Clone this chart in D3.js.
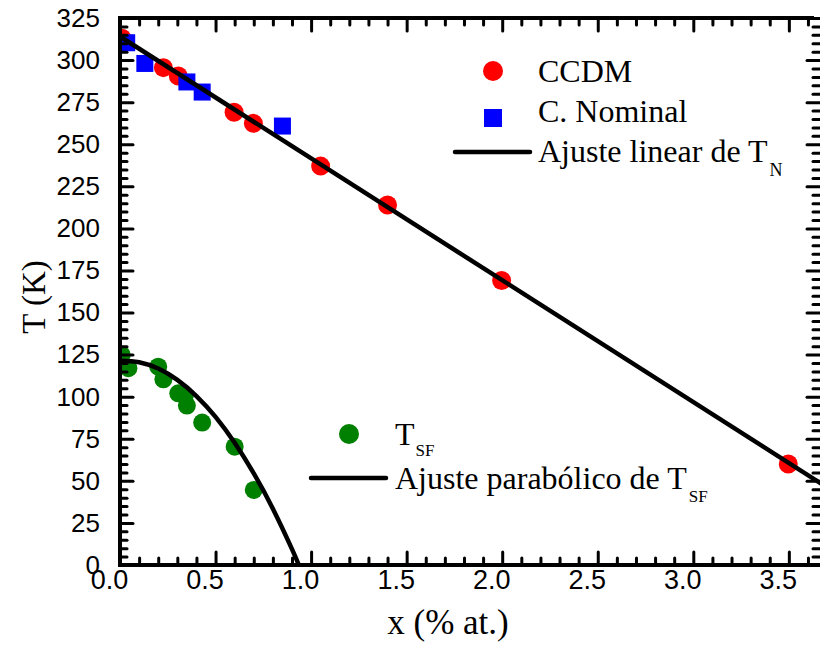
<!DOCTYPE html>
<html>
<head>
<meta charset="utf-8">
<script src="https://cdn.jsdelivr.net/npm/d3@7"></script>
<style>
  html, body { margin: 0; padding: 0; background: #fff; }
  svg { display: block; }
</style>
</head>
<body>
<svg id="chart" width="820" height="648"></svg>
<script>
// ---- data ----
const ccdmX = [0.01, 0.227, 0.305, 0.597, 0.698, 1.05, 1.40, 1.997, 3.497];
const ccdmT = [313, 295.5, 290.5, 269, 262.4, 237, 213.9, 169, 60];

const nominalX = [0.035, 0.13, 0.35, 0.43, 0.85];
const nominalT = [310.3, 298, 287, 281, 260.8];

const tsfX = [0.009, 0.044, 0.20, 0.227, 0.305, 0.34, 0.35, 0.43, 0.60, 0.70];
const tsfT = [124.8, 116.9, 117.8, 110.3, 102, 101, 94.7, 84.6, 70.3, 44.6];

const linFitX = [0, 3.67];
const linFitT = [314, 48.3];

const parFitX = [0, 0.1, 0.2, 0.3, 0.4, 0.5, 0.6, 0.7, 0.8, 0.9, 0.94];
const parFitT = [121.4, 120.5, 116.7, 110.0, 100.4, 88.0, 72.6, 54.4, 33.4, 9.4, -1.2];

const xMajor = [0, 0.5, 1.0, 1.5, 2.0, 2.5, 3.0, 3.5];
const xMinor = [0.1,0.2,0.3,0.4,0.6,0.7,0.8,0.9,1.1,1.2,1.3,1.4,1.6,1.7,1.8,1.9,2.1,2.2,2.3,2.4,2.6,2.7,2.8,2.9,3.1,3.2,3.3,3.4,3.6];
const yMajor = [0, 25, 50, 75, 100, 125, 150, 175, 200, 225, 250, 275, 300, 325];
const yMinor = d3.range(0, 326, 5).filter(v => v % 25 !== 0);

// ---- layout ----
const L = 120, R = 820, T = 18, B = 565;
const svg = d3.select("#chart");
const x = d3.scaleLinear().domain([0, 3.663]).range([L, R]);
const y = d3.scaleLinear().domain([0, 325]).range([B, T]);

svg.append("defs").append("clipPath").attr("id", "clip")
  .append("rect").attr("x", L).attr("y", T).attr("width", R - L).attr("height", B - T);

const plot = svg.append("g").attr("clip-path", "url(#clip)");

// points
plot.selectAll("circle.ccdm").data(ccdmX).join("circle")
  .attr("class", "ccdm")
  .attr("cx", (d, i) => x(d)).attr("cy", (d, i) => y(ccdmT[i]))
  .attr("r", 9.5).attr("fill", "#ff0000");

const sq = 17;
plot.selectAll("rect.nom").data(nominalX).join("rect")
  .attr("class", "nom")
  .attr("x", (d, i) => x(d) - sq / 2).attr("y", (d, i) => y(nominalT[i]) - sq / 2)
  .attr("width", sq).attr("height", sq).attr("fill", "#0000ff");

plot.selectAll("circle.tsf").data(tsfX).join("circle")
  .attr("class", "tsf")
  .attr("cx", (d, i) => x(d)).attr("cy", (d, i) => y(tsfT[i]))
  .attr("r", 9).attr("fill", "#008000");

// fit lines
const line = d3.line().x(d => x(d[0])).y(d => y(d[1]));
plot.append("path")
  .datum(linFitX.map((v, i) => [v, linFitT[i]]))
  .attr("d", line).attr("fill", "none").attr("stroke", "#000").attr("stroke-width", 4.5);
plot.append("path")
  .datum(parFitX.map((v, i) => [v, parFitT[i]]))
  .attr("d", line.curve(d3.curveNatural)).attr("fill", "none").attr("stroke", "#000").attr("stroke-width", 4.5);

// ---- axes ----
function styleAxis(g) {
  g.select(".domain").remove();
  g.selectAll(".tick line").attr("stroke", "#000").attr("stroke-width", 3).attr("stroke-linecap", "round");
}
const majLen = 13, minLen = 7;

// bottom
svg.append("g").attr("transform", `translate(0,${B})`)
  .call(d3.axisBottom(x).tickValues(xMajor).tickSize(-majLen).tickPadding(5).tickFormat(d3.format(".1f")))
  .call(styleAxis)
  .call(g => g.selectAll("text").attr("font-family", "'Liberation Sans', Arial, sans-serif")
    .attr("font-size", 27).attr("fill", "#000").attr("dx", -11));
svg.append("g").attr("transform", `translate(0,${B})`)
  .call(d3.axisBottom(x).tickValues(xMinor).tickSize(-minLen).tickFormat(""))
  .call(styleAxis);
// top
svg.append("g").attr("transform", `translate(0,${T})`)
  .call(d3.axisTop(x).tickValues(xMajor).tickSize(-majLen).tickFormat(""))
  .call(styleAxis);
svg.append("g").attr("transform", `translate(0,${T})`)
  .call(d3.axisTop(x).tickValues(xMinor).tickSize(-minLen).tickFormat(""))
  .call(styleAxis);
// left
svg.append("g").attr("transform", `translate(${L},0)`)
  .call(d3.axisLeft(y).tickValues(yMajor).tickSize(-majLen).tickPadding(20))
  .call(styleAxis)
  .call(g => g.selectAll("text").attr("font-family", "'Liberation Sans', Arial, sans-serif")
    .attr("font-size", 26).attr("fill", "#000"));
svg.append("g").attr("transform", `translate(${L},0)`)
  .call(d3.axisLeft(y).tickValues(yMinor).tickSize(-minLen).tickFormat(""))
  .call(styleAxis);
// right
svg.append("g").attr("transform", `translate(${R},0)`)
  .call(d3.axisRight(y).tickValues(yMajor).tickSize(-majLen).tickFormat(""))
  .call(styleAxis);
svg.append("g").attr("transform", `translate(${R},0)`)
  .call(d3.axisRight(y).tickValues(yMinor).tickSize(-minLen).tickFormat(""))
  .call(styleAxis);

// frame lines
svg.append("line").attr("x1", L).attr("x2", L).attr("y1", T - 2).attr("y2", B + 2)
  .attr("stroke", "#000").attr("stroke-width", 4);
svg.append("line").attr("x1", L - 2).attr("x2", R).attr("y1", B).attr("y2", B)
  .attr("stroke", "#000").attr("stroke-width", 4);
svg.append("line").attr("x1", L - 2).attr("x2", R - 6).attr("y1", T).attr("y2", T)
  .attr("stroke", "#000").attr("stroke-width", 4);

// ---- axis titles ----
const serif = "'Liberation Serif', 'Times New Roman', serif";
svg.append("text").attr("transform", "translate(45,297) rotate(-90)")
  .attr("text-anchor", "middle").attr("font-family", serif).attr("font-size", 33).text("T (K)");
svg.append("text").attr("x", 448).attr("y", 634)
  .attr("text-anchor", "middle").attr("font-family", serif).attr("font-size", 35).text("x (% at.)");

// ---- legends ----
const lg = svg.append("g").attr("font-family", serif).attr("fill", "#000");
lg.append("circle").attr("cx", 493).attr("cy", 71).attr("r", 10).attr("fill", "#ff0000");
lg.append("text").attr("x", 538).attr("y", 82).attr("font-size", 32).text("CCDM");
lg.append("rect").attr("x", 484).attr("y", 109).attr("width", 18).attr("height", 18).attr("fill", "#0000ff");
lg.append("text").attr("x", 538).attr("y", 122).attr("font-size", 32).text("C. Nominal");
lg.append("line").attr("x1", 455).attr("x2", 530).attr("y1", 152).attr("y2", 152)
  .attr("stroke", "#000").attr("stroke-width", 4.5).attr("stroke-linecap", "round");
const t1 = lg.append("text").attr("x", 538).attr("y", 162).attr("font-size", 32);
t1.append("tspan").text("Ajuste linear de T");
t1.append("tspan").attr("font-size", 18).attr("dy", 14).attr("dx", 2).text("N");

lg.append("circle").attr("cx", 349).attr("cy", 434).attr("r", 10).attr("fill", "#008000");
const t2 = lg.append("text").attr("x", 395).attr("y", 445).attr("font-size", 32);
t2.append("tspan").text("T");
t2.append("tspan").attr("font-size", 17).attr("dy", 11).attr("dx", 1).text("SF");
lg.append("line").attr("x1", 311).attr("x2", 386).attr("y1", 478).attr("y2", 478)
  .attr("stroke", "#000").attr("stroke-width", 4.5).attr("stroke-linecap", "round");
const t3 = lg.append("text").attr("x", 395).attr("y", 489).attr("font-size", 32);
t3.append("tspan").text("Ajuste parabólico de T");
t3.append("tspan").attr("font-size", 17).attr("dy", 13).attr("dx", 2).text("SF");
</script>
</body>
</html>
